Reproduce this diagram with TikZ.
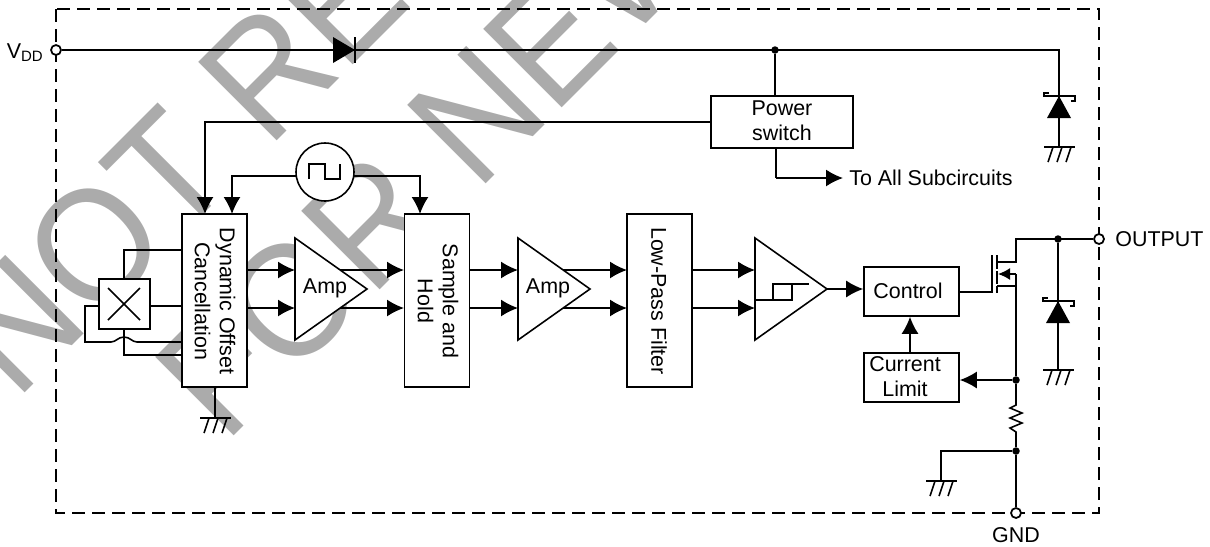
\documentclass[tikz,border=0pt]{standalone}
\usepackage{fontspec}
\setmainfont{Liberation Sans}
\usetikzlibrary{arrows.meta}

\definecolor{stampgray}{HTML}{ABABAB}

\tikzset{
  wire/.style={line width=0.9pt},
  sig/.style={wire,-{Latex[length=3.4mm,width=3.4mm]}},
  blockbox/.style={draw,fill=white,line width=0.9pt,inner sep=0pt},
  amptri/.style={draw,fill=white,line width=0.9pt,line join=miter},
  sidelabel/.style={rotate=-90,align=center,inner sep=0pt},
  txt/.style={align=center,inner sep=0pt},
  stamp/.style={anchor=base west,rotate=45,inner sep=0pt,text=stampgray,font=\fontsize{85}{85}\selectfont},
  pin/.style={circle,draw,fill=white,line width=1pt,inner sep=0pt,minimum size=2mm},
  junct/.style={circle,fill=black,inner sep=0pt,minimum size=1.5mm},
}

\newcommand{\gndsym}[1]{
  \draw[wire] (#1) ++(-15,0) -- ++(31,0);
  \draw[wire] (#1) ++(-6,0) -- ++(-5,15);
  \draw[wire] (#1) ++(3,0) -- ++(-5,15);
  \draw[wire] (#1) ++(12,0) -- ++(-5,15);
}
\newcommand{\zenersym}[1]{
  \draw[wire] (#1) ++(-10,-3) -- ++(-5,0) -- ++(0,3) -- ++(31,0) -- ++(0,5) -- ++(-4,0);
  \fill (#1) -- ++(12,22) -- ++(-24,0) -- cycle;
}

\begin{document}
\begin{tikzpicture}[x=0.2mm,y=-0.2mm,font=\fontsize{12.2}{14.2}\selectfont]

\clip (0,0) rectangle (1210,546);

%% watermark
\node[stamp] (stampa) at (16,402) {\scalebox{1}[1.08]{NOT RE}};
\node[stamp] (stampb) at (225,445) {\scalebox{1}[1.08]{FOR NEW}};

%% frame
\draw[line width=0.7pt,dash pattern=on 2.6mm off 1.4mm] (56,9) rectangle (1099,513);

%% blocks
\node[blockbox,minimum width=28.4mm,minimum height=10.4mm] (pwr) at (782,122) {};
\node[blockbox,minimum width=13mm,minimum height=34.6mm] (doc) at (214.5,300.5) {};
\node[blockbox,minimum width=13mm,minimum height=34.6mm] (sah) at (437,300.5) {};
\node[blockbox,minimum width=13mm,minimum height=34.6mm] (lpf) at (659.5,300.5) {};
\node[blockbox,minimum width=19mm,minimum height=9.8mm] (ctrl) at (911.5,291.5) {};
\node[blockbox,minimum width=19mm,minimum height=9.8mm] (ilim) at (911.5,377.5) {};
\node[blockbox,minimum width=10.2mm,minimum height=10mm] (hall) at (124.5,304) {};
\node[circle,draw,fill=white,line width=0.9pt,inner sep=0pt,minimum size=11.6mm] (clk) at (325,172) {};

%% block labels
\node[txt] (pwrtext) at (782,121) {Power\\switch};
\node[sidelabel] (doctext) at (215,301) {Dynamic Offset\\Cancellation};
\node[sidelabel] (sahtext) at (438,301) {Sample and\\Hold};
\node[sidelabel] (lpftext) at (659,301) {Low-Pass Filter};
\node[txt] (ctrltext) at (908,291) {Control};
\node[txt] (ilimtext) at (905,377) {Current\\Limit};

%% amplifiers and comparator
\draw[amptri] (295,238) coordinate (ampa) -- (367,289) -- (295,340) -- cycle;
\draw[amptri] (518,238) coordinate (ampb) -- (590,289) -- (518,340) -- cycle;
\draw[amptri] (755,238) coordinate (cmp) -- (827,289) coordinate (cmpout) -- (755,340) -- cycle;
\node[txt] (ampatext) at (325,288) {Amp};
\node[txt] (ampbtext) at (548,288) {Amp};
\draw[wire] (755,300) -- (792,300) -- (792,284) -- (773,284) -- (773,300);
\draw[wire] (792,284) -- (809,284);

%% pins and dots
\node[pin] (vdd) at (56,50) {};
\node[pin] (out) at (1099,239) {};
\node[pin] (gnd) at (1016,513) {};
\node[junct] (jvdd) at (775,50) {};
\node[junct] (jout) at (1058,239) {};
\node[junct] (jsense) at (1016,380) {};
\node[junct] (jgnd) at (1016,451) {};

\node[txt,anchor=east] (vddtext) at (44,53) {V\textsubscript{DD}};
\node[txt,anchor=west] (outtext) at (1115,239) {OUTPUT};
\node[txt] (gndtext) at (1016,535) {GND};
\node[txt,anchor=west] (subtext) at (849,178) {To All Subcircuits};

%% supply rail
\coordinate (railend) at (1059,50);
\coordinate (zatop) at (1059,96);
\coordinate (zagnd) at (1059,147);
\draw[wire] (vdd) -- (railend) -- (zagnd);
\zenersym{zatop}
\gndsym{zagnd}
\fill (333,37) coordinate (dioa) -- (355,50) -- (333,63) -- cycle;
\draw[wire] (355,37) -- (355,63);
\draw[wire] (jvdd) -- (jvdd |- pwr.north);

%% power switch outputs
\coordinate (subcorner) at (776,178);
\coordinate (subtip) at (843,178);
\coordinate (pwrleft) at (205,122);
\coordinate (docina) at (205,214);
\coordinate (docinb) at (232,214);
\coordinate (clkl) at (297,176);
\coordinate (clkr) at (353,176);
\coordinate (sahin) at (420,214);
\draw[wire] (subcorner |- pwr.south) -- (subcorner);
\draw[sig] (subcorner) -- (subtip);
\draw[sig] (pwr.west) -- (pwrleft) -- (docina);

%% clock
\draw[sig] (clkl) -| (docinb);
\draw[sig] (clkr) -| (sahin);
\draw[wire] (309,179) -- (309,164) -- (325,164) -- (325,179) -- (340,179) -- (340,164);

%% hall element
\draw[wire] (108,288) -- (140,320);
\draw[wire] (108,320) -- (140,288);
\draw[wire] (124,279) -- (124,250) -- (182,250);
\draw[wire] (150,306) -- (182,306);
\draw[wire] (99,306) -- (85,306) -- (85,342) -- (111,342) .. controls (116,342) and (118,337) .. (124,337) .. controls (130,337) and (132,342) .. (137,342) -- (182,342);
\draw[wire] (124,329) -- (124,355) -- (182,355);

%% offset block ground
\coordinate (docgnd) at (215,418);
\draw[wire] (doc.south -| docgnd) -- (docgnd);
\gndsym{docgnd}

%% signal path
\draw[sig] (247,270) -- (295,270);
\draw[sig] (247,308) -- (295,308);
\draw[sig] (340,270) -- (404,270);
\draw[sig] (340,308) -- (404,308);
\draw[sig] (470,270) -- (518,270);
\draw[sig] (470,308) -- (518,308);
\draw[sig] (563,270) -- (627,270);
\draw[sig] (563,308) -- (627,308);
\draw[sig] (692,270) -- (755,270);
\draw[sig] (692,308) -- (755,308);
\draw[sig] (cmpout) -- (cmpout -| ctrl.west);

%% output stage
\draw[sig] (ilim.north -| 910,0) -- (ctrl.south -| 910,0);
\draw[wire] (959,292) -- (992,292);
\draw[wire] (992,255) -- (992,293);
\draw[wire] (997,255) -- (997,269);
\draw[wire] (997,271) -- (997,284);
\draw[wire] (997,286) -- (997,293);
\draw[wire] (997,262) -- (1016,262) -- (1016,239) -- (out);
\draw[-{Latex[length=2.4mm,width=2.4mm]},wire] (1016,274) -- (998,274);
\draw[wire] (997,286) -- (1016,286);
\draw[wire] (1016,274) -- (jsense);
\draw[sig] (jsense) -- (jsense -| ilim.east);
\draw[wire] (jsense) -- (1016,405) -- (1010,408) -- (1022,413) -- (1010,418) -- (1022,423) -- (1010,428) -- (1016,432) -- (jgnd);
\draw[wire] (jgnd) -- (gnd);
\coordinate (lgnd) at (941,481);
\draw[wire] (jgnd) -| (lgnd);
\gndsym{lgnd}

\coordinate (zbtop) at (1058,301);
\coordinate (zbgnd) at (1058,370);
\draw[wire] (jout) -- (zbgnd);
\zenersym{zbtop}
\gndsym{zbgnd}

\end{tikzpicture}
\end{document}
